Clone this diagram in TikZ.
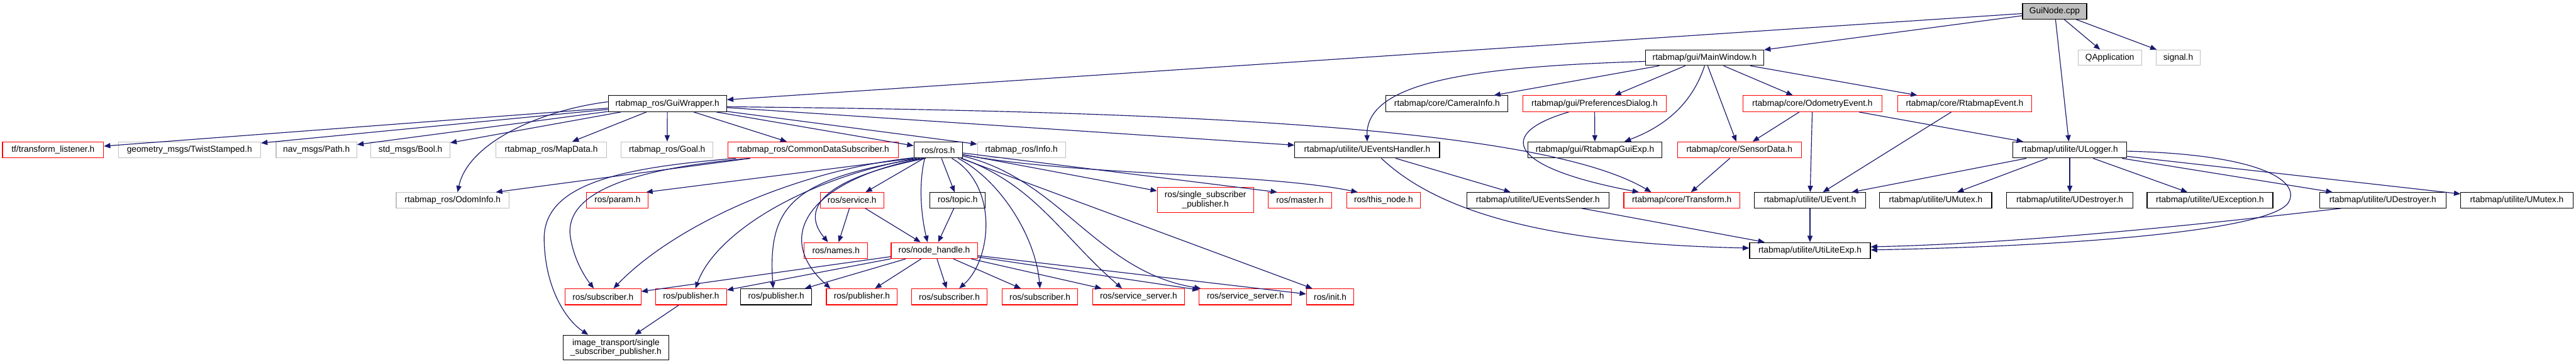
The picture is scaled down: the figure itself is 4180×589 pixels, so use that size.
\documentclass[tikz,border=0pt]{standalone}
\usepackage{fontspec}
\setmainfont{Liberation Sans}
\usetikzlibrary{arrows.meta,calc}
\definecolor{edgeblue}{HTML}{191970}
\definecolor{greyl}{HTML}{BFBFBF}
\newcommand\fs{\fontsize{3.5pt}{3.6pt}\selectfont}
\newcommand\bx[7]{\node[#6,minimum width={(#3-#2)*0.25pt},minimum height={(#5-#4)*0.25pt}] (#1) at ({(#2+#3)/2},{(#4+#5)/2}) {#7};}
\tikzset{
  bk/.style={draw=black,line width=0.3pt,inner sep=0pt,fill=white,font=\fs,align=center,text=black},
  rd/.style={bk,draw=red},
  gy/.style={bk,draw=greyl},
  gf/.style={bk,fill=greyl},
  edg/.style={draw=edgeblue,line width=0.3pt,-{Triangle[length=2.6pt,width=2.1pt]}}
}
\begin{document}
\begin{tikzpicture}[x=0.25pt,y=-0.25pt]
\path[use as bounding box] (0,0) rectangle (4180,589);
% row A
\bx{gn}{3282}{3386}{6}{31}{gf}{GuiNode.cpp}
% row B
\bx{mw}{2670}{2862}{81}{106}{bk}{rtabmap/gui/MainWindow.h}
\bx{qa}{3372}{3475}{81}{106}{gy}{QApplication}
\bx{sg}{3499}{3570}{81}{106}{gy}{signal.h}
% row C
\bx{gw}{987}{1179}{155}{181}{bk}{rtabmap\_ros/GuiWrapper.h}
\bx{ci}{2249}{2447}{155}{181}{bk}{rtabmap/core/CameraInfo.h}
\bx{pd}{2471}{2704}{155}{181}{rd}{rtabmap/gui/PreferencesDialog.h}
\bx{oe}{2828}{3054}{155}{181}{rd}{rtabmap/core/OdometryEvent.h}
\bx{re}{3079}{3297}{155}{181}{rd}{rtabmap/core/RtabmapEvent.h}
% row D
\bx{tf}{4}{168}{230}{256}{rd}{tf/transform\_listener.h}
\bx{ge}{192}{423}{230}{256}{gy}{geometry\_msgs/TwistStamped.h}
\bx{np}{448}{579}{230}{256}{gy}{nav\_msgs/Path.h}
\bx{sb}{602}{730}{230}{256}{gy}{std\_msgs/Bool.h}
\bx{md}{805}{984}{230}{256}{gy}{rtabmap\_ros/MapData.h}
\bx{go}{1008}{1157}{230}{256}{gy}{rtabmap\_ros/Goal.h}
\bx{cds}{1181}{1458}{230}{256}{rd}{rtabmap\_ros/CommonDataSubscriber.h}
\bx{ros}{1483}{1562}{230}{256}{bk}{ros/ros.h}
\bx{inf}{1586}{1729}{230}{256}{gy}{rtabmap\_ros/Info.h}
\bx{ueh}{2101}{2336}{230}{256}{bk}{rtabmap/utilite/UEventsHandler.h}
\bx{rge}{2479}{2697}{230}{256}{bk}{rtabmap/gui/RtabmapGuiExp.h}
\bx{sd}{2722}{2923}{230}{256}{rd}{rtabmap/core/SensorData.h}
\bx{ul}{3266}{3451}{230}{256}{bk}{rtabmap/utilite/ULogger.h}
% row E
\bx{oi}{643}{826}{312}{337}{gy}{rtabmap\_ros/OdomInfo.h}
\bx{pa}{952}{1052}{312}{337}{rd}{ros/param.h}
\bx{sv}{1331}{1434}{312}{337}{rd}{ros/service.h}
\bx{tp}{1509}{1599}{312}{337}{bk}{ros/topic.h}
\bx{ssp}{1878}{2034}{304}{344}{rd}{ros/single\_subscriber\\\_publisher.h}
\bx{ma}{2058}{2161}{312}{337}{rd}{ros/master.h}
\bx{tn}{2185}{2305}{312}{337}{rd}{ros/this\_node.h}
\bx{ues}{2380}{2611}{312}{337}{bk}{rtabmap/utilite/UEventsSender.h}
\bx{tr}{2635}{2823}{312}{337}{rd}{rtabmap/core/Transform.h}
\bx{ue}{2847}{3027}{312}{337}{bk}{rtabmap/utilite/UEvent.h}
\bx{um}{3050}{3232}{312}{337}{bk}{rtabmap/utilite/UMutex.h}
\bx{ud}{3256}{3461}{312}{337}{bk}{rtabmap/utilite/UDestroyer.h}
\bx{ux}{3484}{3688}{312}{337}{bk}{rtabmap/utilite/UException.h}
\bx{udb}{3764}{3969}{312}{337}{bk}{rtabmap/utilite/UDestroyer.h}
\bx{umb}{3993}{4175}{312}{337}{bk}{rtabmap/utilite/UMutex.h}
% row F
\bx{nm}{1305}{1408}{393}{419}{rd}{ros/names.h}
\bx{nh}{1446}{1586}{393}{419}{rd}{ros/node\_handle.h}
\bx{ule}{2839}{3035}{393}{419}{bk}{rtabmap/utilite/UtiLiteExp.h}
% row G
\bx{sa}{917}{1040}{468}{494}{rd}{ros/subscriber.h}
\bx{pb}{1064}{1179}{468}{494}{rd}{ros/publisher.h}
\bx{pc}{1202}{1317}{468}{494}{bk}{ros/publisher.h}
\bx{pe}{1341}{1456}{468}{494}{rd}{ros/publisher.h}
\bx{sf}{1479}{1602}{468}{494}{rd}{ros/subscriber.h}
\bx{sh}{1626}{1749}{468}{494}{rd}{ros/subscriber.h}
\bx{ssa}{1773}{1922}{468}{494}{rd}{ros/service\_server.h}
\bx{ssb}{1946}{2096}{468}{494}{rd}{ros/service\_server.h}
\bx{ini}{2120}{2197}{468}{494}{rd}{ros/init.h}
% row H
\bx{it}{914}{1085}{543}{583}{bk}{image\_transport/single\\\_subscriber\_publisher.h}

% GuiNode
\draw[edg] (gn) -- (gw);
\draw[edg] (gn) -- (mw);
\draw[edg] (gn) -- (ul);
\draw[edg] (gn) -- (qa);
\draw[edg] (gn) -- (sg);
% MainWindow
\draw[edg] ($(mw.west)+(0,6)$) .. controls (2400,108) and (2216,130) .. (ueh.north);
\draw[edg] (mw) -- (ci);
\draw[edg] (mw) -- (pd);
\draw[edg] (mw.south) .. controls (2745,170) and (2700,205) .. ($(rge.north)+(48,0)$);
\draw[edg] (mw) -- (sd);
\draw[edg] (mw) -- (oe);
\draw[edg] (mw) -- (re);
% PreferencesDialog
\draw[edg] (pd) -- (rge);
\draw[edg] ($(pd.south)+(-42,0)$) .. controls (2430,215) and (2440,270) .. ($(tr.north west)+(25,0)$);
% OdometryEvent / RtabmapEvent / SensorData
\draw[edg] (oe) -- (sd);
\draw[edg] (oe) -- (ue);
\draw[edg] (oe) -- (ul);
\draw[edg] (re) -- (ue);
\draw[edg] (sd) -- (tr);
% ULogger
\draw[edg] (ul) -- (ue);
\draw[edg] (ul) -- (um);
\draw[edg] (ul) -- (ud);
\draw[edg] (ul) -- (ux);
\draw[edg] (ul) -- (udb);
\draw[edg] (ul) -- (umb);
\draw[edg] ($(ul.east)+(0,2)$) .. controls (3660,250) and (3730,290) .. (3715,325) .. controls (3700,370) and (3400,398) .. ($(ule.east)+(0,-1)$);
\draw[edg] ($(udb.south west)+(36,0)$) .. controls (3500,372) and (3250,395) .. ($(ule.east)+(0,-6)$);
% utilite
\draw[edg] (ue) -- (ule);
\draw[edg] (ues) -- (ule);
\draw[edg] ($(ueh.south)+(23,0)$) .. controls (2330,340) and (2500,395) .. ($(ule.west)+(0,-4)$);
\draw[edg] (ueh) -- (ues);
% GuiWrapper
\draw[edg] (gw) -- (tf);
\draw[edg] (gw) -- (ge);
\draw[edg] (gw) -- (np);
\draw[edg] (gw) -- (sb);
\draw[edg] (gw) -- (md);
\draw[edg] (gw) -- (go);
\draw[edg] (gw) -- (cds);
\draw[edg] (gw) -- (ros);
\draw[edg] (gw) -- (inf);
\draw[edg] (gw) -- (ueh);
\draw[edg] ($(gw.east)+(0,5)$) .. controls (1900,180) and (2500,205) .. ($(tr.north west)+(45,0)$);
\draw[edg] ($(gw.west)+(0,-3)$) .. controls (880,178) and (760,230) .. ($(oi.north)+(8,0)$);
% CommonDataSubscriber
\draw[edg] (cds) -- ($(oi.north east)+(-22,0)$);
\draw[edg] ($(cds.south west)+(14,0)$) .. controls (1000,272) and (880,300) .. (883,390) .. controls (885,470) and (920,520) .. ($(it.north)+(-45,0)$);
\draw[edg] ($(cds.south west)+(37,0)$) .. controls (1000,275) and (920,320) .. (925,380) .. controls (930,420) and (950,450) .. ($(sa.north)+(-15,0)$);
% ros/ros.h
\draw[edg] (ros.south west) -- ($(pa.north east)+(-4,0)$);
\draw[edg] ($(ros.south west)+(0,-1)$) .. controls (1300,275) and (1100,360) .. ($(sa.north)+(17,0)$);
\draw[edg] ($(ros.south west)+(5,0)$) .. controls (1300,290) and (1160,380) .. ($(pb.north)+(7,0)$);
\draw[edg] ($(ros.south west)+(10,0)$) .. controls (1290,290) and (1245,330) .. ($(pc.north)+(-5,0)$);
\draw[edg] ($(ros.south west)+(15,0)$) .. controls (1320,290) and (1250,380) .. ($(pe.north)+(-51,0)$);
\draw[edg] ($(ros.south west)+(20,0)$) .. controls (1330,290) and (1300,340) .. ($(nm.north)+(-13,0)$);
\draw[edg] (ros) -- ($(sv.north east)+(-30,0)$);
\draw[edg] ($(ros.south)+(-22,0)$) .. controls (1490,300) and (1495,350) .. ($(nh.north)+(-11,0)$);
\draw[edg] (ros) -- (tp);
\draw[edg] ($(ros.south)+(22,0)$) .. controls (1620,300) and (1610,420) .. ($(sf.north)+(16,0)$);
\draw[edg] ($(ros.south east)+(-8,0)$) .. controls (1620,290) and (1680,380) .. (sh.north);
\draw[edg] ($(ros.south east)+(-2,0)$) .. controls (1680,300) and (1720,380) .. ($(ssa.north)+(-27,0)$);
\draw[edg] ($(ros.east)+(0,10)$) .. controls (1720,290) and (1780,440) .. ($(ssb.north west)+(3,0)$);
\draw[edg] (ros) -- ($(ini.north west)+(10,0)$);
\draw[edg] (ros) -- (ssp);
\draw[edg] (ros) -- ($(ma.north west)+(15,0)$);
\draw[edg] ($(ros.east)+(0,8)$) .. controls (1750,285) and (2050,280) .. ($(tn.north)+(-42,0)$);
% service / topic
\draw[edg] (sv) -- (nm);
\draw[edg] (sv) -- (nh);
\draw[edg] (tp) -- (nh);
% node_handle
\draw[edg] (nh) -- (sa);
\draw[edg] (nh) -- (pb);
\draw[edg] (nh) -- (pc);
\draw[edg] (nh) -- (pe);
\draw[edg] (nh) -- (sf);
\draw[edg] (nh) -- (sh);
\draw[edg] (nh) -- (ssa);
\draw[edg] (nh) -- (ssb);
\draw[edg] (nh) -- (ini);
% publisher
\draw[edg] (pb) -- (it);
\end{tikzpicture}
\end{document}
